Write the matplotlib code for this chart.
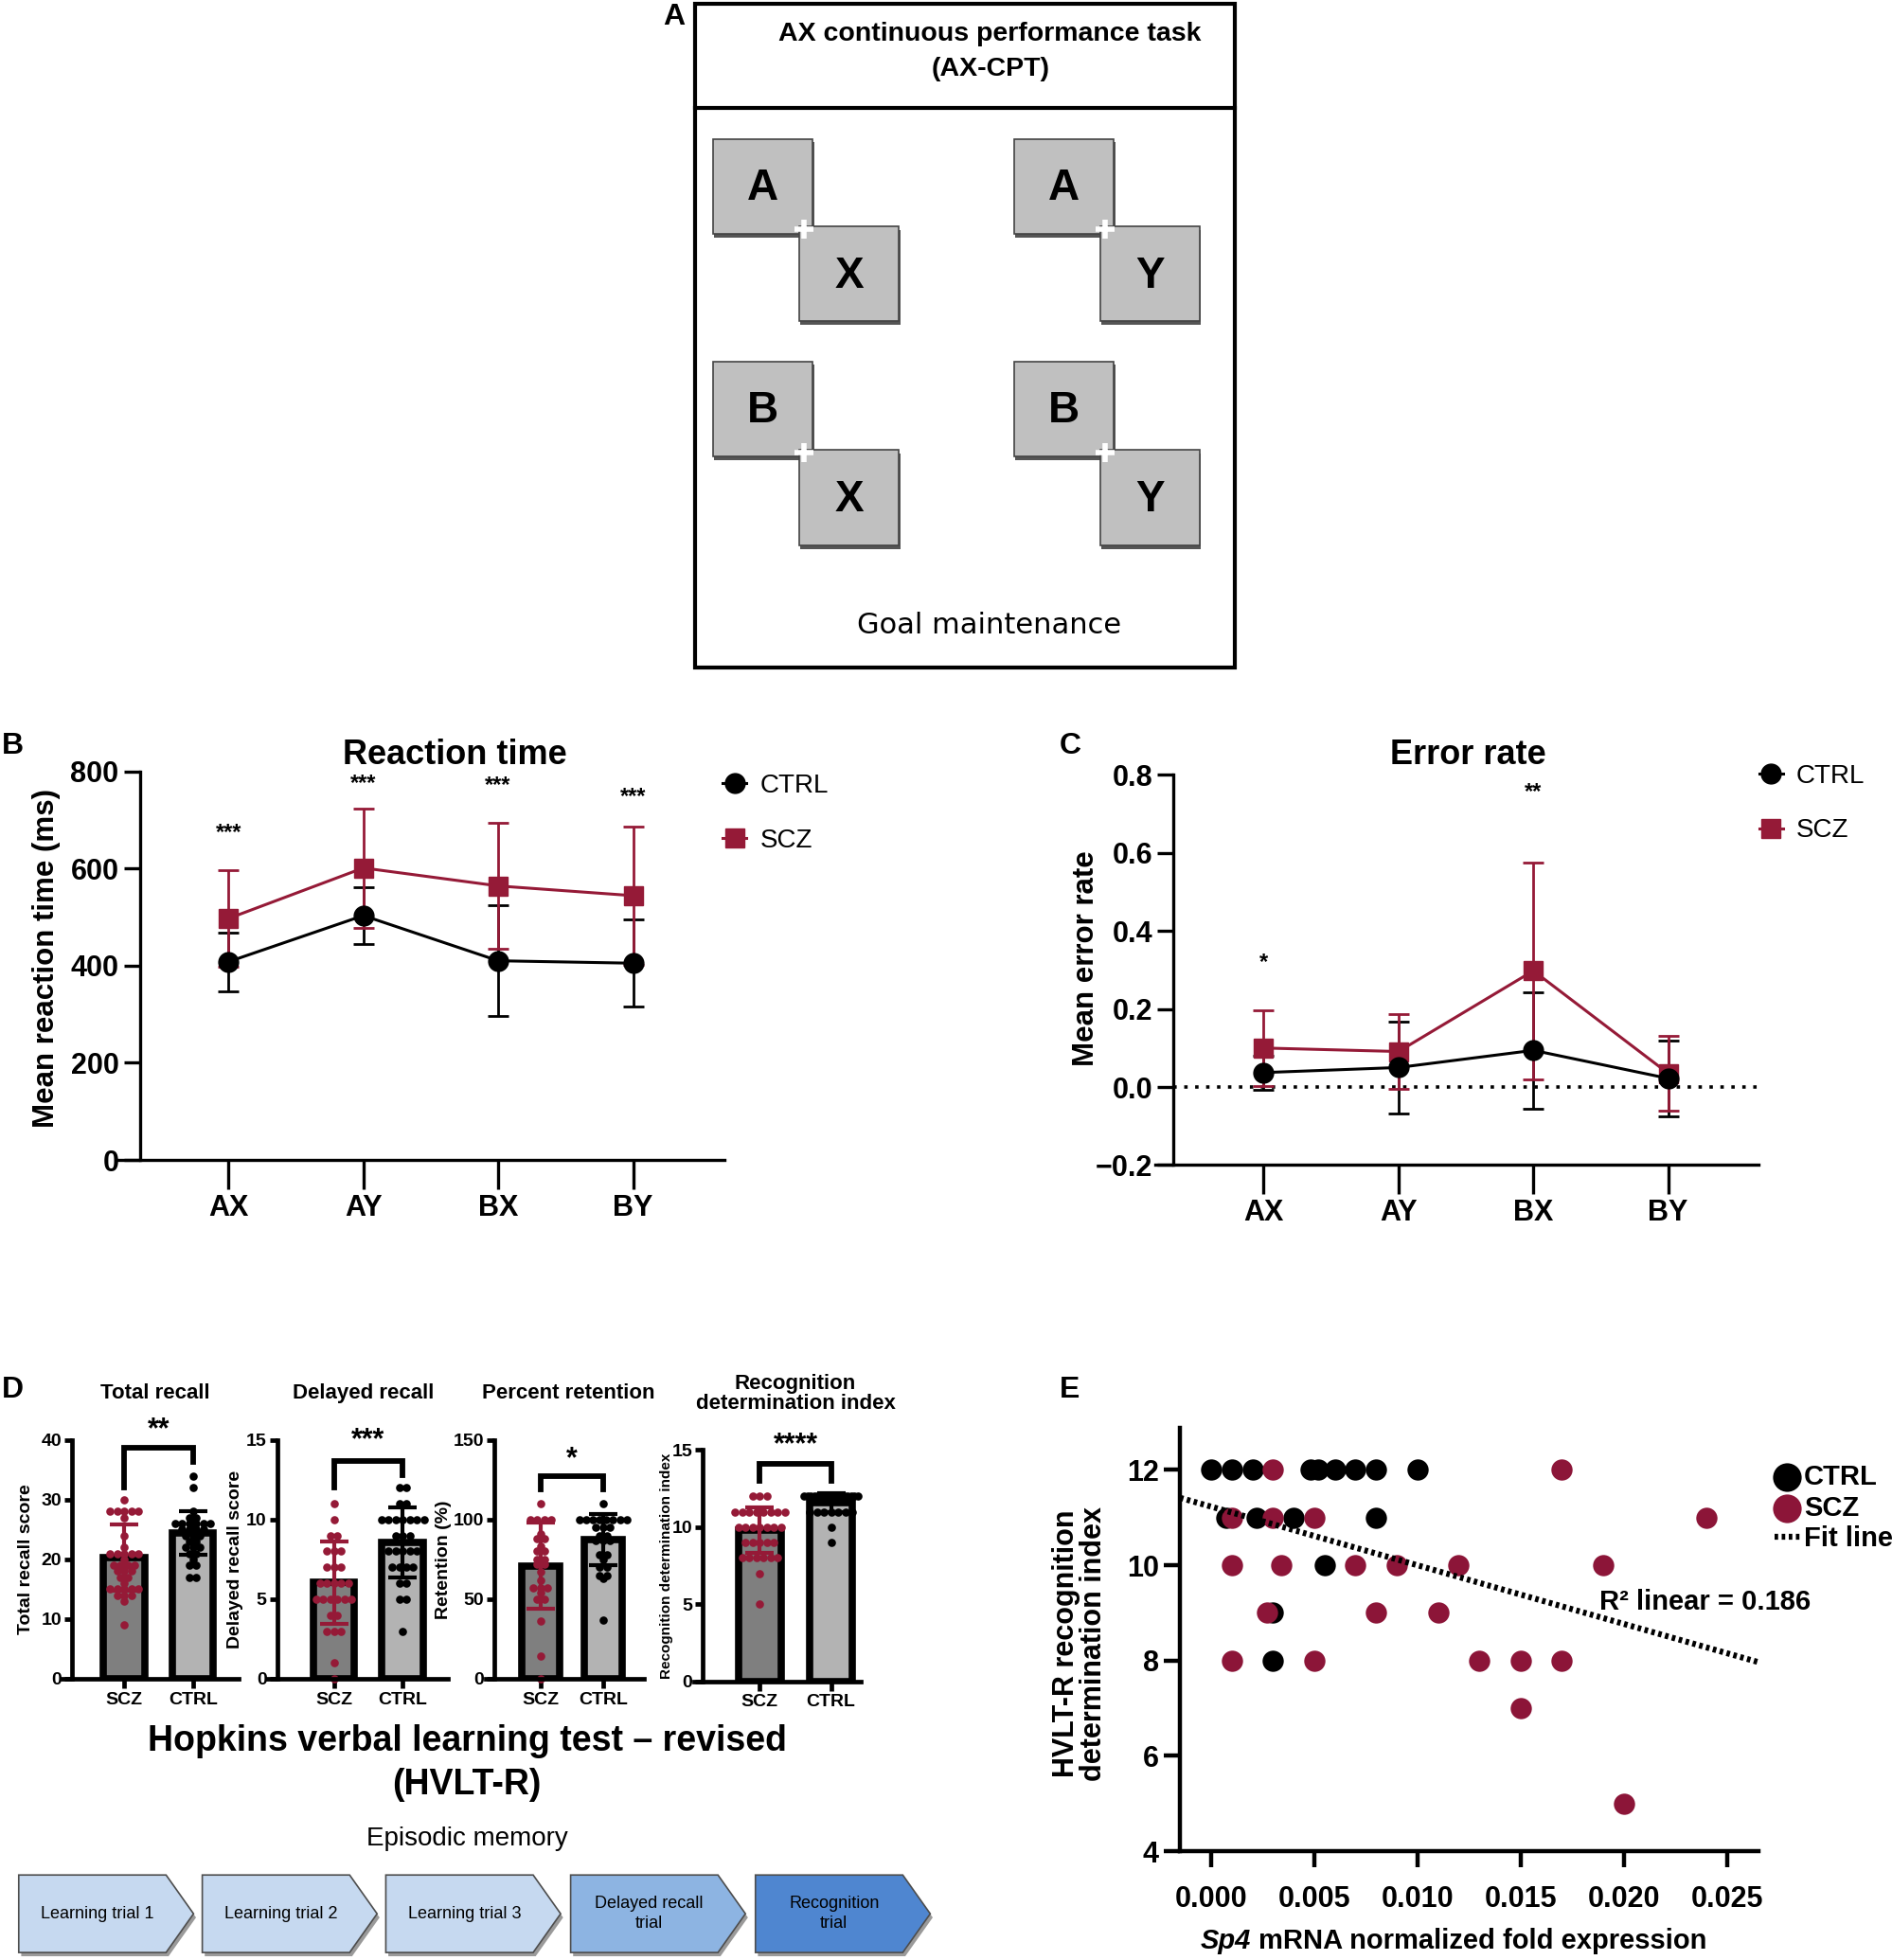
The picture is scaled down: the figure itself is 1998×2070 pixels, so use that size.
"""AX-CPT / HVLT-R composite figure (panels A-E)."""

from collections import Counter

import numpy as np
import matplotlib

matplotlib.use("Agg")
import matplotlib.pyplot as plt
from matplotlib.patches import Polygon, Rectangle

# reference layout grid (all positions below are in these units)
W, H = 1516, 1568

RED = "#951a37"
SCZ_GREY = "#7f7f7f"
CTRL_GREY = "#b3b3b3"
BODY = ["Liberation Sans", "DejaVu Sans"]
NARROW = ["Liberation Sans Narrow", "Liberation Sans", "DejaVu Sans"]

# ---- panel B / C data ----
CONDITIONS = ["AX", "AY", "BX", "BY"]
RT_CTRL = [408, 503, 410, 405]
RT_CTRL_SD = [60, 59, 114, 90]
RT_SCZ = [497, 601, 564, 544]
RT_SCZ_SD = [100, 123, 130, 143]
RT_STARS = ["***", "***", "***", "***"]
RT_STAR_Y = [674, 775, 771, 748]

ER_CTRL = [0.037, 0.050, 0.094, 0.022]
ER_CTRL_SD = [0.044, 0.117, 0.150, 0.098]
ER_SCZ = [0.100, 0.091, 0.298, 0.035]
ER_SCZ_SD = [0.097, 0.095, 0.278, 0.095]
ER_STARS = ["*", "", "**", ""]
ER_STAR_Y = [0.32, 0.0, 0.757, 0.0]

# ---- panel D data ----
GROUPS = ["SCZ", "CTRL"]
TOTAL_SCZ = [30, 28, 28, 28, 28, 28, 27, 24, 22, 21, 21, 21, 21, 21, 20, 19, 19, 19,
             19, 18, 18, 18, 17, 17, 16, 15, 15, 15, 15, 15, 14, 14, 14, 13, 9]
TOTAL_CTRL = [34, 32, 28, 27, 27, 26, 26, 26, 26, 26, 26, 25, 25, 25, 25, 24, 24, 24,
              23, 23, 22, 22, 22, 21, 21, 20, 19, 19, 17, 17]
TOTAL_MEAN = [20.3, 24.4]
TOTAL_SD = [5.5, 3.6]

DELAYED_SCZ = [11, 10, 9, 9, 8, 8, 8, 7, 7, 7, 6, 6, 6, 6, 6, 5, 5, 5, 5, 5, 5,
               4, 4, 3, 3, 3, 1, 0]
DELAYED_CTRL = [12, 12, 11, 11, 10, 10, 10, 10, 10, 10, 10, 9, 9, 9, 8, 8, 8, 8, 8,
                7, 7, 7, 7, 6, 6, 5, 5, 3]
DELAYED_MEAN = [6.05, 8.55]
DELAYED_SD = [2.6, 2.2]

RET_SCZ = [110, 100, 100, 100, 100, 91, 88, 88, 83, 80, 80, 75, 75, 72, 72, 67, 62,
           57, 57, 57, 54, 50, 50, 36, 14, 0]
RET_CTRL = [110, 100, 100, 100, 100, 100, 100, 100, 100, 95, 95, 95, 90, 90, 87, 87,
            87, 78, 78, 75, 70, 70, 65, 65, 63, 37]
RET_MEAN = [71, 87.5]
RET_SD = [27, 16]

RECOG_SCZ = [12] * 3 + [11] * 8 + [10] * 7 + [9] * 5 + [8] * 6 + [7, 5]
RECOG_CTRL = [12] * 17 + [11] * 7 + [10, 9]
RECOG_MEAN = [9.8, 11.6]
RECOG_SD = [1.5, 0.6]

HVLT_STEPS = ["Learning trial 1", "Learning trial 2", "Learning trial 3",
              "Delayed recall\ntrial", "Recognition\ntrial"]
HVLT_COLORS = ["#c6d9f0", "#c6d9f0", "#c6d9f0", "#8db4e2", "#4f86d0"]

# ---- panel E data ----
E_CTRL_X = [0.000, 0.001, 0.002, 0.0048, 0.0052, 0.006, 0.007, 0.008, 0.010,
            0.00075, 0.0022, 0.004, 0.008, 0.0055, 0.003, 0.003]
E_CTRL_Y = [12, 12, 12, 12, 12, 12, 12, 12, 12, 11, 11, 11, 11, 10, 9, 8]
E_SCZ_X = [0.003, 0.017, 0.001, 0.003, 0.005, 0.024, 0.001, 0.0034, 0.007, 0.009,
           0.012, 0.019, 0.0027, 0.008, 0.011, 0.001, 0.005, 0.013, 0.015, 0.017,
           0.015, 0.020]
E_SCZ_Y = [12, 12, 11, 11, 11, 11, 10, 10, 10, 10, 10, 10, 9, 9, 9, 8, 8, 8, 8, 8, 7, 5]
FIT_INTERCEPT = 11.23
FIT_SLOPE = -123.0
FIT_R2 = 0.186


def rect(left, top, right, bottom):
    return [left / W, 1 - bottom / H, (right - left) / W, (bottom - top) / H]


def style_ticks(ax, size, weight="bold", family=NARROW):
    for lab in ax.get_xticklabels() + ax.get_yticklabels():
        lab.set_family(family)
        lab.set_fontweight(weight)
        lab.set_fontsize(size)


def swarm(values, center, dx, maxw):
    counts = Counter(values)
    xs, ys = [], []
    for v in sorted(counts, reverse=True):
        k = counts[v]
        w = min((k - 1) * dx, maxw)
        offs = np.linspace(-w / 2, w / 2, k) if k > 1 else [0.0]
        xs.extend(center + np.asarray(offs))
        ys.extend([v] * k)
    return xs, ys


def draw_panel_a(ov):
    ov.add_patch(Rectangle((557, 3), 432, 531, fill=False, lw=3, ec="black"))
    ov.plot([557, 989], [86, 86], color="black", lw=3)
    ov.text(793, 27, "AX continuous performance task", ha="center", va="center",
            fontsize=20.5, fontweight="bold", family=BODY)
    ov.text(793, 55, "(AX-CPT)", ha="center", va="center",
            fontsize=20.5, fontweight="bold", family=BODY)
    cards = [((571, 111), "A", (640, 181), "X"), ((812, 111), "A", (881, 181), "Y"),
             ((571, 289), "B", (640, 360), "X"), ((812, 289), "B", (881, 360), "Y")]
    for (x1, y1), l1, (x2, y2), l2 in cards:
        for (x, y), letter in (((x1, y1), l1), ((x2, y2), l2)):
            ov.add_patch(Rectangle((x + 1, y + 3), 80, 76, color="#555555", lw=0))
            ov.add_patch(Rectangle((x, y), 80, 76, fc="#c0c0c0", ec="#444444", lw=1.2))
            ov.text(x + 40, y + 40, letter, ha="center", va="center",
                    fontsize=33, fontweight="bold", family=BODY)
        ov.plot([x2 + 4], [y2 + 2], marker="+", ms=14, mew=4, color="white")
    ov.text(792, 500, "Goal maintenance", ha="center", va="center",
            fontsize=22, family=["DejaVu Sans"])


def draw_hvlt_steps(ov):
    lefts = [15, 162, 309, 457, 605]
    width, tip, top, bottom = 140, 22, 1500, 1562
    mid = (top + bottom) / 2
    for left, label, color in zip(lefts, HVLT_STEPS, HVLT_COLORS):
        pts = [(left, top), (left + width - tip, top), (left + width, mid),
               (left + width - tip, bottom), (left, bottom)]
        shadow = [(px + 2, py + 3) for px, py in pts]
        ov.add_patch(Polygon(shadow, closed=True, fc="#9a9a9a", ec="none"))
        ov.add_patch(Polygon(pts, closed=True, fc=color, ec="#4d4d4d", lw=1.2))
        ov.text(left + (width - tip) / 2 + 4, mid, label, ha="center", va="center",
                fontsize=13, family=NARROW, linespacing=1.3)


def line_panel(ax, ctrl, ctrl_sd, scz, scz_sd, ylim, yticks, yspine, stars, star_y):
    x = np.arange(len(CONDITIONS))
    ax.errorbar(x, ctrl, yerr=ctrl_sd, fmt="none", ecolor="black", elinewidth=2,
                capsize=8, capthick=2, zorder=2)
    ax.errorbar(x, scz, yerr=scz_sd, fmt="none", ecolor=RED, elinewidth=2,
                capsize=8, capthick=2, zorder=2)
    h_ctrl, = ax.plot(x, ctrl, color="black", marker="o", ms=15, lw=2.2, zorder=4)
    h_scz, = ax.plot(x, scz, color=RED, marker="s", ms=14, lw=2.2, zorder=3)
    for xi, s, yv in zip(x, stars, star_y):
        if s:
            ax.text(xi, yv, s, ha="center", va="center", fontsize=17,
                    family=NARROW, fontweight="bold")
    ax.set_ylim(*ylim)
    ax.set_yticks(yticks)
    ax.set_xticks(x)
    ax.set_xticklabels(CONDITIONS)
    for side in ("top", "right"):
        ax.spines[side].set_visible(False)
    ax.spines["left"].set_position(("data", yspine))
    ax.spines["left"].set_linewidth(2.4)
    ax.spines["bottom"].set_linewidth(2.4)
    ax.tick_params(axis="y", length=12, width=2.4, pad=4)
    ax.tick_params(axis="x", length=22, width=2.4, pad=4)
    ax.set_facecolor("none")
    style_ticks(ax, 22)
    return h_ctrl, h_scz


def bar_panel(ax, scz, ctrl, means, sds, ymax, yticks, ylabel, ylabel_size,
              bracket, geom):
    yaxis_px, c0, sp, left_px, right_px = geom
    px = sp * 1.319  # output px per data unit
    dx = 7.5 / px
    bars = ax.bar([0, 1], means, width=0.6, color=[SCZ_GREY, CTRL_GREY],
                  edgecolor="black", linewidth=5.5, zorder=1)
    for i, (vals, col) in enumerate(((scz, RED), (ctrl, "black"))):
        xs, ys = swarm(vals, i, dx, 0.75)
        ax.plot(xs, ys, "o", color=col, ms=6.2, mew=0, zorder=2, clip_on=False)
        ax.errorbar(i, means[i], yerr=sds[i], fmt="none", ecolor=col,
                    elinewidth=3, capsize=11, capthick=3, zorder=3)
    top, leg_scz, leg_ctrl, star_y, stars = bracket
    ax.plot([0, 0, 1, 1], [leg_scz, top, top, leg_ctrl], color="black", lw=4.2,
            solid_joinstyle="miter", clip_on=False, zorder=4)
    ax.text(0.5, star_y, stars, ha="center", va="center", fontsize=22,
            fontweight="bold", family=BODY, clip_on=False)
    ax.set_xlim((left_px - c0) / sp, (right_px - c0) / sp)
    ax.set_ylim(0, ymax)
    ax.set_yticks(yticks)
    ax.set_xticks([0, 1])
    ax.set_xticklabels(GROUPS)
    for side in ("top", "right"):
        ax.spines[side].set_visible(False)
    ax.spines["left"].set_position(("data", (yaxis_px - c0) / sp))
    ax.spines["left"].set_linewidth(3.4)
    ax.spines["bottom"].set_linewidth(3.4)
    ax.tick_params(axis="y", length=6, width=3.4, pad=2)
    ax.tick_params(axis="x", length=7, width=3.4, pad=3)
    ax.set_facecolor("none")
    ax.set_ylabel(ylabel, fontsize=ylabel_size, fontweight="bold", family=BODY)
    style_ticks(ax, 14)
    return bars


def main():
    fig = plt.figure(figsize=(19.99, 20.70), dpi=100)
    ov = fig.add_axes([0, 0, 1, 1])
    ov.set_xlim(0, W)
    ov.set_ylim(H, 0)
    ov.axis("off")

    draw_panel_a(ov)
    for letter, (lx, ly) in {"A": (540, 14), "B": (10, 597), "C": (857, 597),
                             "D": (10, 1112), "E": (857, 1112)}.items():
        ov.text(lx, ly, letter, ha="center", va="center", fontsize=23,
                fontweight="bold", family=BODY)

    # ---- B: reaction time ----
    axb = fig.add_axes(rect(93, 617, 580, 928))
    axb.set_xlim((93 - 183) / 108, (580 - 183) / 108)
    hc, hs = line_panel(axb, RT_CTRL, RT_CTRL_SD, RT_SCZ, RT_SCZ_SD, (0, 800),
                        [0, 200, 400, 600, 800], (112 - 183) / 108, RT_STARS, RT_STAR_Y)
    axb.set_ylabel("Mean reaction time (ms)", fontsize=22.5, fontweight="bold",
                   family=BODY)
    axb.yaxis.set_label_coords(-0.092, 0.52)
    ov.text(364, 604, "Reaction time", ha="center", va="center", fontsize=26,
            fontweight="bold", family=NARROW)
    fig.legend([hc, hs], ["CTRL", "SCZ"], loc="upper left",
               bbox_to_anchor=(560 / W, 1 - 600 / H), frameon=False,
               handlelength=0.9, handletextpad=0.5, labelspacing=1.15,
               prop={"family": BODY, "size": 20})

    # ---- C: error rate ----
    axc = fig.add_axes(rect(925, 620, 1408, 932))
    axc.set_xlim((925 - 1012) / 108, (1408 - 1012) / 108)
    axc.axhline(0, color="black", ls=(0, (1, 2.2)), lw=2.6, zorder=1,
                xmin=(940 - 925) / (1408 - 925))
    hc, hs = line_panel(axc, ER_CTRL, ER_CTRL_SD, ER_SCZ, ER_SCZ_SD, (-0.2, 0.8),
                        [-0.2, 0.0, 0.2, 0.4, 0.6, 0.8], (940 - 1012) / 108,
                        ER_STARS, ER_STAR_Y)
    axc.set_yticklabels(["\u22120.2", "0.0", "0.2", "0.4", "0.6", "0.8"])
    style_ticks(axc, 22)
    axc.set_ylabel("Mean error rate", fontsize=22.5, fontweight="bold", family=BODY)
    axc.yaxis.set_label_coords(-0.090, 0.53)
    ov.text(1176, 604, "Error rate", ha="center", va="center", fontsize=26,
            fontweight="bold", family=NARROW)
    fig.legend([hc, hs], ["CTRL", "SCZ"], loc="upper left",
               bbox_to_anchor=(1390 / W, 1 - 592 / H), frameon=False,
               handlelength=0.9, handletextpad=0.5, labelspacing=1.15,
               prop={"family": BODY, "size": 20})

    # ---- D: HVLT-R bar charts ----
    specs = [
        ("Total recall", TOTAL_SCZ, TOTAL_CTRL, TOTAL_MEAN, TOTAL_SD, 40,
         [0, 10, 20, 30, 40], "Total recall score", 14, (38.7, 32.1, 36.3, 41.6, "**"),
         (58, 99.5, 55, 50, 191), (1152, 1343), 27, 124),
        ("Delayed recall", DELAYED_SCZ, DELAYED_CTRL, DELAYED_MEAN, DELAYED_SD, 15,
         [0, 5, 10, 15], "Delayed recall score", 14, (13.7, 12.0, 12.8, 15.0, "***"),
         (222, 267.5, 55, 214, 359), (1152, 1343), 195, 291),
        ("Percent retention", RET_SCZ, RET_CTRL, RET_MEAN, RET_SD, 150,
         [0, 50, 100, 150], "Retention (%)", 14, (127, 119, 119, 138, "*"),
         (396, 433, 50, 389, 516), (1152, 1343), 362, 455),
        ("Recognition\ndetermination index", RECOG_SCZ, RECOG_CTRL, RECOG_MEAN,
         RECOG_SD, 15, [0, 5, 10, 15], "Recognition determination index", 11,
         (14.1, 13.0, 13.0, 15.3, "****"), (563, 608.5, 57, 556, 689), (1160, 1345),
         539, 637),
    ]
    for (title, scz, ctrl, means, sds, ymax, yticks, ylabel, ylsize, bracket,
         geom, (top, bottom), ylab_x, title_x) in specs:
        yaxis_px, c0, sp, left_px, right_px = geom
        ax = fig.add_axes(rect(left_px, top, right_px, bottom))
        bar_panel(ax, scz, ctrl, means, sds, ymax, yticks, ylabel, ylsize, bracket, geom)
        ax.yaxis.set_label_coords((ylab_x - left_px) / (right_px - left_px), 0.5)
        ov.text(title_x, 1115, title, ha="center", va="center", fontsize=16,
                fontweight="bold", family=BODY, linespacing=1.05)

    ov.text(374, 1393, "Hopkins verbal learning test \u2013 revised", ha="center",
            va="center", fontsize=27, fontweight="bold", family=NARROW)
    ov.text(374, 1428, "(HVLT-R)", ha="center", va="center", fontsize=27,
            fontweight="bold", family=NARROW)
    ov.text(374, 1471, "Episodic memory", ha="center", va="center", fontsize=20,
            family=NARROW)
    draw_hvlt_steps(ov)

    # ---- E: scatter with fit line ----
    axe = fig.add_axes(rect(945, 1142, 1408, 1481))
    xlim = (-0.00151, 0.02651)
    sc_c = axe.scatter(E_CTRL_X, E_CTRL_Y, s=260, color="black", lw=0, zorder=3)
    sc_s = axe.scatter(E_SCZ_X, E_SCZ_Y, s=260, color="#8c1538", lw=0, zorder=4)
    fx = np.array(xlim)
    fit, = axe.plot(fx, FIT_INTERCEPT + FIT_SLOPE * fx, color="black", lw=4.5,
                    ls=(0, (0.6, 0.6)), zorder=5)
    axe.text(0.0188, 9.23, f"R\u00b2 linear = {FIT_R2}", fontsize=21, fontweight="bold",
             family=NARROW, va="center", ha="left")
    axe.set_xlim(*xlim)
    axe.set_ylim(4, 12.89)
    axe.set_yticks([4, 6, 8, 10, 12])
    axe.set_xticks([0.0, 0.005, 0.010, 0.015, 0.020, 0.025])
    axe.set_xticklabels([f"{v:.3f}" for v in [0.0, 0.005, 0.010, 0.015, 0.020, 0.025]])
    for side in ("top", "right"):
        axe.spines[side].set_visible(False)
    axe.spines["left"].set_linewidth(3.2)
    axe.spines["bottom"].set_linewidth(3.2)
    axe.tick_params(axis="y", length=12, width=3.2, pad=4)
    axe.tick_params(axis="x", length=12, width=3.2, pad=14)
    axe.set_facecolor("none")
    style_ticks(axe, 22)
    axe.set_ylabel("HVLT-R recognition\ndetermination index", fontsize=22,
                   fontweight="bold", family=BODY, linespacing=0.95)
    axe.yaxis.set_label_coords(-0.125, 0.49)
    ov.text(1002, 1553, "Sp4", ha="right", va="center", fontsize=21,
            fontweight="bold", fontstyle="italic", family=NARROW)
    ov.text(1008, 1553, "mRNA normalized fold expression", ha="left", va="center",
            fontsize=21, fontweight="bold", family=NARROW)
    axe.legend([sc_c, sc_s, fit], ["CTRL", "SCZ", "Fit line"], loc="upper left",
               bbox_to_anchor=(1.01, 0.94), frameon=False, handlelength=0.9,
               handletextpad=0.15, labelspacing=0.15, borderaxespad=0,
               markerscale=1.35, prop={"family": NARROW, "size": 21, "weight": "bold"})

    fig.savefig("out.png", dpi=100, facecolor="white")


if __name__ == "__main__":
    main()
